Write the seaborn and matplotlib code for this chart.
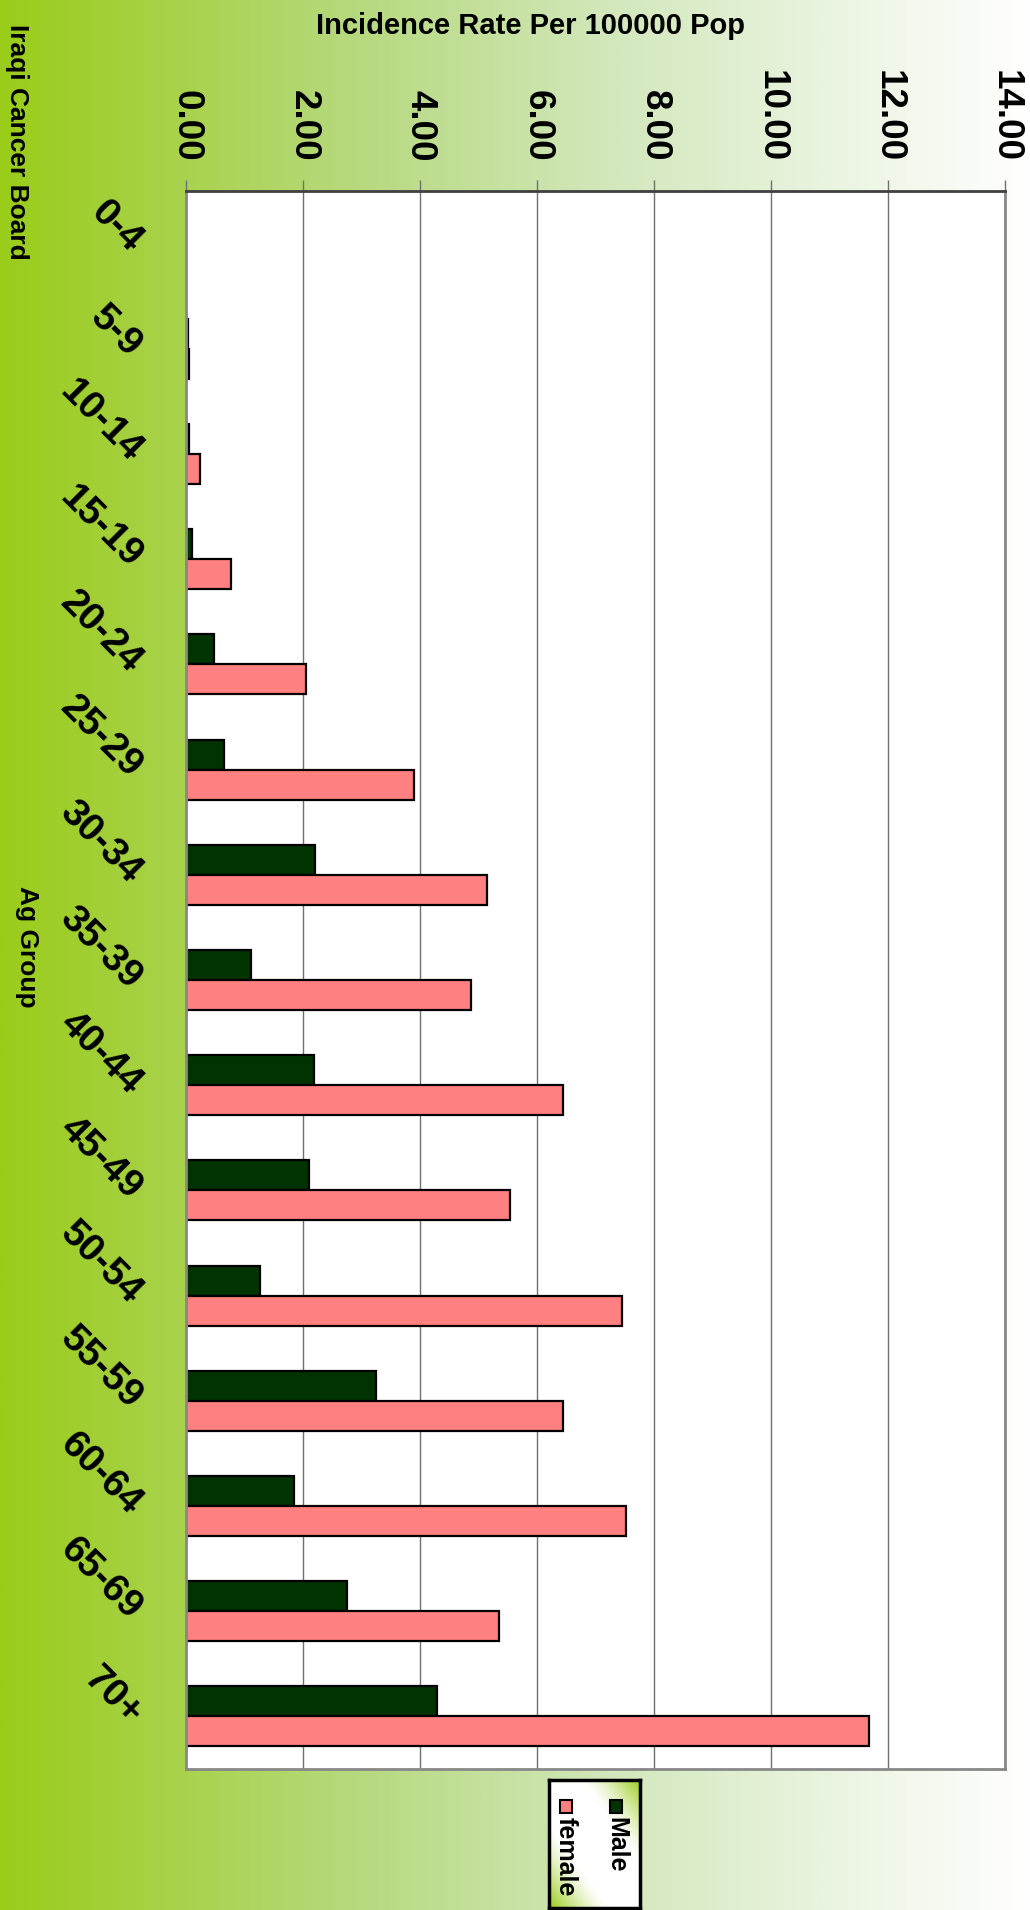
import numpy as np
import pandas as pd
import matplotlib
matplotlib.use("Agg")
import matplotlib.pyplot as plt
import seaborn as sns
from matplotlib.colors import LinearSegmentedColormap, to_rgb
from matplotlib.patches import Rectangle

# data (incidence rate per 100000)
age_groups = ["0-4", "5-9", "10-14", "15-19", "20-24", "25-29", "30-34", "35-39",
              "40-44", "45-49", "50-54", "55-59", "60-64", "65-69", "70+"]
male = [0.00, 0.03, 0.05, 0.10, 0.48, 0.65, 2.20, 1.11, 2.19, 2.11, 1.26, 3.24, 1.85, 2.76, 4.29]
female = [0.00, 0.05, 0.24, 0.77, 2.05, 3.90, 5.14, 4.87, 6.44, 5.54, 7.46, 6.44, 7.52, 5.35, 11.68]
value_ticks = [0, 2, 4, 6, 8, 10, 12, 14]

df = pd.DataFrame({
    "age": age_groups * 2,
    "rate": male + female,
    "sex": ["Male"] * len(male) + ["female"] * len(female),
})

sns.set_style("white")
plt.rcParams["font.family"] = ["Liberation Sans", "DejaVu Sans"]
plt.rcParams["text.color"] = "black"
plt.rcParams["axes.labelcolor"] = "black"
plt.rcParams["xtick.labelcolor"] = "black"
plt.rcParams["ytick.labelcolor"] = "black"

W, H = 1030, 1910
fig = plt.figure(figsize=(W / 100, H / 100), dpi=100)

# green -> white background gradient
bg_cmap = LinearSegmentedColormap.from_list(
    "bg", [(0.0, "#9acc1a"), (0.35, "#b7d97f"), (0.6, "#d3e8bd"), (1.0, "#ffffff")])
bg = fig.add_axes([0, 0, 1, 1], zorder=0)
bg.imshow(np.linspace(0, 1, 512)[None, :], aspect="auto", cmap=bg_cmap, extent=[0, 1, 0, 1])
bg.axis("off")

# plot area in pixels
left, right, top, bottom = 186, 1005, 191, 1769
ax = fig.add_axes([left / W, (H - bottom) / H, (right - left) / W, (bottom - top) / H], zorder=1)
ax.set_facecolor("white")

sns.barplot(data=df, x="rate", y="age", hue="sex", hue_order=["Male", "female"],
            palette={"Male": "#003300", "female": "#ff8080"}, orient="h",
            width=0.571, gap=0, saturation=1, edgecolor="black", linewidth=1.6,
            errorbar=None, legend=False, ax=ax)
for p in ax.patches:
    if p.get_width() == 0:
        p.set_linewidth(0)

ax.set_xlim(0, 14)
ax.set_ylim(len(age_groups) - 0.5, -0.5)

# value axis on top, rotated labels
ax.xaxis.tick_top()
ax.set_xticks(value_ticks)
ax.set_xticklabels([f"{v:.2f}" for v in value_ticks], rotation=-90,
                   fontsize=26.5, fontweight="bold")
ax.tick_params(axis="x", which="major", direction="out", length=8, width=1,
               color="#707070", pad=13, top=True, bottom=False,
               labeltop=True, labelbottom=False)
ax.grid(axis="x", color="#707070", linewidth=1)
ax.grid(axis="y", visible=False)
ax.set_axisbelow(True)

# category axis
ax.set_yticks(range(len(age_groups)))
ax.set_yticklabels(age_groups, rotation=-45, ha="right", rotation_mode="anchor",
                   fontsize=28, fontweight="bold")
ax.set_yticks(np.arange(-0.5, len(age_groups), 1), minor=True)
ax.tick_params(axis="y", which="major", length=0, pad=34)
ax.tick_params(axis="y", which="minor", direction="out", length=8, width=2, color="#888888")

for s in ["left", "right", "bottom"]:
    ax.spines[s].set_color("#888888")
    ax.spines[s].set_linewidth(2)
ax.spines["top"].set_color("#404040")
ax.spines["top"].set_linewidth(2)

# axis titles
narrow = ["Liberation Sans Narrow", "Liberation Sans", "DejaVu Sans"]
ax_b = (H - bottom) / H
ax_h = (bottom - top) / H
ax.set_xlabel("Incidence Rate Per 100000 Pop", fontsize=21, fontweight="bold", family=narrow)
ax.xaxis.set_label_position("top")
ax.xaxis.set_label_coords((530 - left) / (right - left), ((H - 26) / H - ax_b) / ax_h)
ax.xaxis.label.set_va("center")
ax.set_ylabel("Ag Group", fontsize=19, fontweight="bold", family=narrow, rotation=-90)
ax.yaxis.set_label_coords((27 - left) / (right - left), ((H - 947) / H - ax_b) / ax_h)
ax.yaxis.label.set_va("center")

fig.text(17 / W, 1 - 24 / H, "Iraqi Cancer Board", rotation=-90, ha="center", va="top",
         fontsize=19, fontweight="bold")

# legend box with rotated entries
lx0, lx1, ly0, ly1 = 549, 640, 1780, 1908
lg = fig.add_axes([lx0 / W, (H - ly1) / H, (lx1 - lx0) / W, (ly1 - ly0) / H], zorder=2)
u, v = np.meshgrid(np.linspace(0, 1, 60), np.linspace(1, 0, 90))
d = np.abs((u + v) - 1.0)
green, white = np.array(to_rgb("#9acc1a")), np.ones(3)
wgt = np.clip((d - 0.35) / 0.65, 0, 1) ** 1.3
img = white[None, None, :] * (1 - wgt[..., None]) + green[None, None, :] * wgt[..., None]
lg.imshow(img, aspect="auto", extent=[0, 1, 0, 1])
lg.set_xlim(0, 1)
lg.set_ylim(0, 1)
lg.set_xticks([])
lg.set_yticks([])
for s in lg.spines.values():
    s.set_color("black")
    s.set_linewidth(2.5)
entries = [("Male", "#003300", (616 - lx0) / (lx1 - lx0)),
           ("female", "#ff8080", (566 - lx0) / (lx1 - lx0))]
for name, col, xc in entries:
    lg.add_patch(Rectangle((xc - 0.066, 0.745), 0.132, 0.1, facecolor=col,
                           edgecolor="black", linewidth=1.5))
    lg.text(xc, 0.71, name, rotation=-90, ha="center", va="top",
            fontsize=18, fontweight="bold")

fig.savefig("out.png", dpi=100)
